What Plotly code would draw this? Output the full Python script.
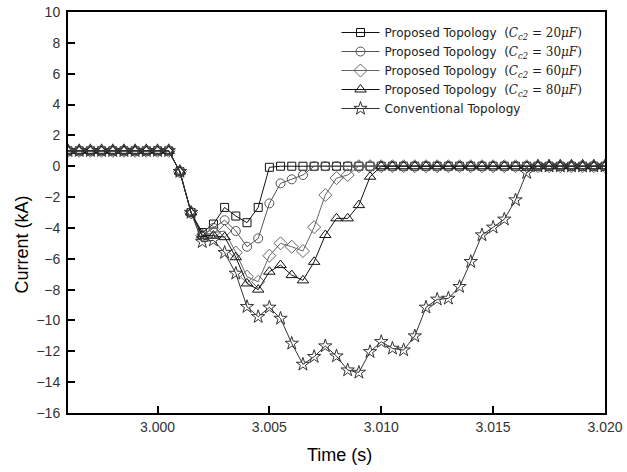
import plotly.graph_objects as go

time_s = [2.9960, 2.9965, 2.9970, 2.9975, 2.9980, 2.9985, 2.9990, 2.9995,
          3.0000, 3.0005, 3.0010, 3.0015, 3.0020, 3.0025, 3.0030, 3.0035,
          3.0040, 3.0045, 3.0050, 3.0055, 3.0060, 3.0065, 3.0070, 3.0075,
          3.0080, 3.0085, 3.0090, 3.0095, 3.0100, 3.0105, 3.0110, 3.0115,
          3.0120, 3.0125, 3.0130, 3.0135, 3.0140, 3.0145, 3.0150, 3.0155,
          3.0160, 3.0165, 3.0170, 3.0175, 3.0180, 3.0185, 3.0190, 3.0195,
          3.0200]

pre = [1.0] * 10

cc2_20 = pre + [-0.35, -3.0, -4.3, -3.75, -2.67, -3.23, -3.66, -2.67, -0.07] + [0.0] * 30
cc2_30 = pre + [-0.35, -3.0, -4.5, -4.0, -3.5, -4.2, -5.22, -4.68, -2.41, -1.11, -0.85, -0.57] + [0.0] * 27
cc2_60 = pre + [-0.35, -3.0, -4.5, -4.3, -4.2, -5.6, -7.16, -7.49, -5.8, -5.0, -5.22, -5.5,
                -3.95, -1.87, -0.77, -0.57] + [0.0] * 23
cc2_80 = pre + [-0.35, -3.0, -4.5, -4.5, -4.6, -5.9, -7.6, -8.0, -6.84, -6.41, -7.06, -7.4,
                -6.2, -4.46, -3.38, -3.38, -2.52, -0.68] + [0.0] * 21
conventional = pre + [-0.35, -3.0, -4.9, -4.8, -5.6, -6.95, -9.11, -9.76, -9.15, -9.87,
                      -11.49, -12.85, -12.35, -11.66, -12.31, -13.22, -13.37, -12.03,
                      -11.38, -11.81, -11.92, -11.01, -9.15, -8.63, -8.57, -7.81, -6.19,
                      -4.46, -3.96, -3.44, -2.19, -0.42] + [0.0] * 7

x_ticks = [3.000, 3.005, 3.010, 3.015, 3.020]
y_ticks = list(range(-16, 11, 2))
cap_values = ["20", "30", "60", "80"]

MATH = "font-family:'DejaVu Serif', serif"


def proposed_label(v):
    return ("Proposed Topology  (<span style=\"" + MATH + "\"><i>C</i></span>"
            "<sub><span style=\"" + MATH + "\"><i>c2</i></span></sub>"
            "<span style=\"" + MATH + "\"> = " + v + "<i>μF</i>)</span>")


series = [
    (proposed_label(cap_values[0]), cc2_20, "square-open", "#111111", 8),
    (proposed_label(cap_values[1]), cc2_30, "circle-open", "#555555", 9),
    (proposed_label(cap_values[2]), cc2_60, "diamond-open", "#666666", 10),
    (proposed_label(cap_values[3]), cc2_80, "triangle-up-open", "#111111", 10),
    ("Conventional Topology", conventional, "star-open", "#333333", 10),
]

fig = go.Figure()
for name, vals, sym, col, size in series:
    fig.add_trace(go.Scatter(
        x=time_s, y=vals, name=name, mode="lines+markers",
        line=dict(color=col, width=1),
        marker=dict(symbol=sym, size=size, color=col, line=dict(width=1, color=col)),
    ))

fig.update_layout(
    width=627, height=472,
    margin=dict(l=68, r=22, t=12, b=59, autoexpand=False),
    paper_bgcolor="white", plot_bgcolor="white",
    font=dict(family="Liberation Sans, Arial, sans-serif", color="#222222"),
    showlegend=True,
    legend=dict(x=0.50, y=0.985, xanchor="left", yanchor="top",
                bgcolor="rgba(0,0,0,0)", borderwidth=0,
                font=dict(family="DejaVu Sans, sans-serif", size=12, color="#222222"),
                tracegroupgap=0, itemwidth=38),
    annotations=[
        dict(text="Current (kA)", xref="paper", yref="paper", x=-0.0857, y=0.42,
             textangle=-90, showarrow=False, xanchor="center", yanchor="middle",
             font=dict(size=18, color="black")),
        dict(text="Time (s)", xref="paper", yref="paper", x=0.505, y=-0.105,
             showarrow=False, xanchor="center", yanchor="middle",
             font=dict(size=18, color="black")),
    ],
)
fig.update_xaxes(
    range=[2.996, 3.020], tickvals=x_ticks, tickformat=".3f",
    ticks="inside", ticklen=7, tickwidth=1.5, tickcolor="black",
    showline=True, linecolor="black", linewidth=2, mirror=True,
    showgrid=False, zeroline=False, automargin=False,
    ticklabeloverflow="allow",
    tickfont=dict(size=14, color="#333333"),
)
fig.update_yaxes(
    range=[-16, 10], tickvals=y_ticks,
    ticks="inside", ticklen=7, tickwidth=1.5, tickcolor="black",
    showline=True, linecolor="black", linewidth=2, mirror=True,
    showgrid=False, zeroline=False, automargin=False,
    ticklabelstandoff=3, ticklabeloverflow="allow",
    tickfont=dict(size=14, color="#333333"),
)

fig.write_html(
    "out.html",
    config={"displayModeBar": False},
    post_script="document.body.style.margin='0';document.body.style.padding='0';",
)
